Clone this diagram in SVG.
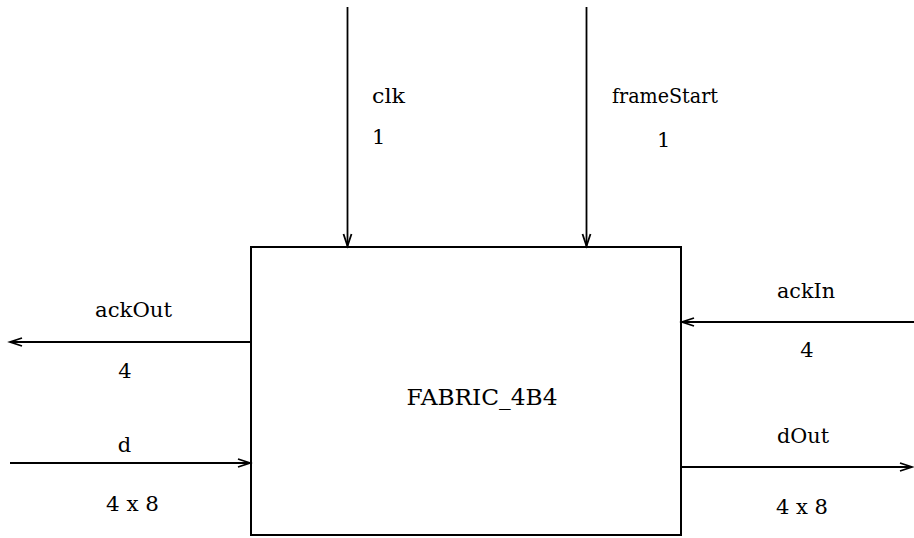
<svg xmlns="http://www.w3.org/2000/svg" width="914" height="538" viewBox="0 0 914 538">
<style>
  text { font-family: "DejaVu Serif", "Liberation Serif", serif; font-size: 21px; fill: #000; }
  .c { text-anchor: middle; }
  .line { stroke: #000; stroke-width: 1.8; fill: none; }
  .ah { stroke: #000; stroke-width: 1.8; fill: none; }
</style>
<rect width="914" height="538" fill="#fff"/>
<g id="FABRIC_4B4">
  <rect x="251" y="247" width="430" height="288" fill="#fff" stroke="#000" stroke-width="2"/>
  <text class="c" x="482" y="405" style="font-size:23px" textLength="151" lengthAdjust="spacingAndGlyphs">FABRIC_4B4</text>
</g>
<g id="connectors">
  <line class="line" x1="347.5" y1="7" x2="347.5" y2="246"/>
  <polyline class="ah" points="343.5,234 347.5,246 351.5,234"/>
  <line class="line" x1="586.5" y1="7" x2="586.5" y2="246"/>
  <polyline class="ah" points="582.5,234 586.5,246 590.5,234"/>
  <line class="line" x1="10" y1="342" x2="251" y2="342"/>
  <polyline class="ah" points="22,338 10,342 22,346"/>
  <line class="line" x1="10" y1="463" x2="250" y2="463"/>
  <polyline class="ah" points="238,459 250,463 238,467"/>
  <line class="line" x1="682" y1="322" x2="914" y2="322"/>
  <polyline class="ah" points="694,318 682,322 694,326"/>
  <line class="line" x1="681" y1="467" x2="912" y2="467"/>
  <polyline class="ah" points="900,463 912,467 900,471"/>
</g>
<g id="labels">
  <text x="372" y="103" textLength="33" lengthAdjust="spacingAndGlyphs">clk</text>
  <text x="372" y="144">1</text>
  <text x="612" y="103" textLength="106" lengthAdjust="spacingAndGlyphs">frameStart</text>
  <text x="657" y="147">1</text>
  <text class="c" x="133.5" y="317" textLength="77" lengthAdjust="spacingAndGlyphs">ackOut</text>
  <text class="c" x="125" y="378">4</text>
  <text class="c" x="124.5" y="452">d</text>
  <text class="c" x="132.5" y="511" textLength="53" lengthAdjust="spacingAndGlyphs">4 x 8</text>
  <text class="c" x="806" y="298" textLength="58" lengthAdjust="spacingAndGlyphs">ackIn</text>
  <text class="c" x="807" y="357">4</text>
  <text class="c" x="803" y="443" textLength="52" lengthAdjust="spacingAndGlyphs">dOut</text>
  <text class="c" x="802" y="514" textLength="52" lengthAdjust="spacingAndGlyphs">4 x 8</text>
</g>
</svg>
